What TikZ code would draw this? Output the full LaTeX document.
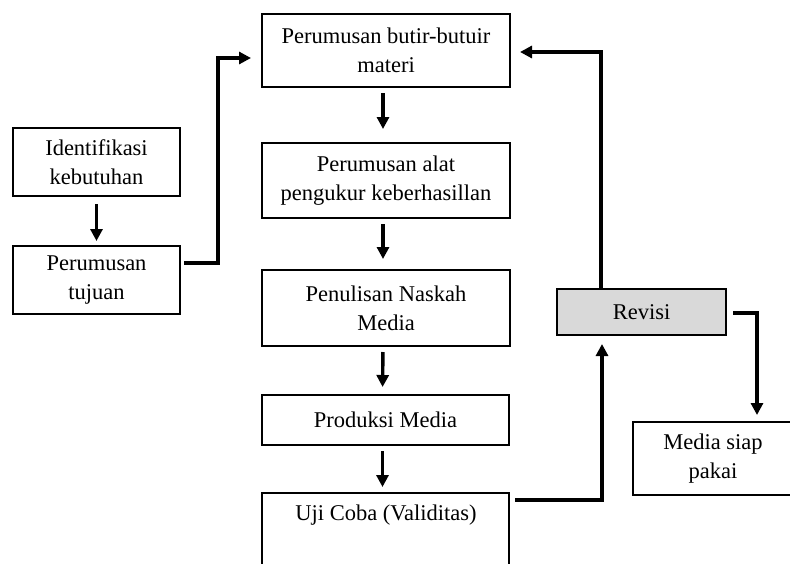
\documentclass[tikz,border=0pt]{standalone}
\usepackage{fontspec}
\setmainfont{Liberation Serif}
\usetikzlibrary{arrows.meta}
\begin{document}
\begin{tikzpicture}[x=1pt,y=-1pt,
  box/.style={draw=black, line width=2pt, fill=white, inner sep=0pt, align=center,
    font=\fontsize{22.5}{29}\selectfont},
  txt/.style={inner sep=0pt, align=center, font=\fontsize{22.5}{29}\selectfont},
  conn/.style={draw=black, line width=3.4pt, -{Triangle[width=12pt,length=12pt]}}]
\useasboundingbox (0,0) rectangle (790,563);
\clip (0,0) rectangle (790,563);
\fill[white] (0,0) rectangle (790,563);

% left column
\node[box, minimum width=167, minimum height=68] (i1) at (96.5,162) {Identifikasi\\kebutuhan};
\node[box, minimum width=167, minimum height=68] (i2) at (96.5,280) {Perumusan\\tujuan};

% centre column
\node[box, minimum width=248, minimum height=73] (b1) at (386,50.5) {Perumusan butir-butuir\\materi};
\node[box, minimum width=248, minimum height=75] (b2) at (386,180.5) {Perumusan alat\\pengukur keberhasillan};
\node[box, minimum width=248, minimum height=76] (b3) at (386,308) {Penulisan Naskah\\Media};
\node[box, minimum width=247, minimum height=50] (b4) at (385.5,420) {Produksi Media};
\node[box, minimum width=247, minimum height=100, anchor=north] (b5) at (385.5,492) {};
\node[txt] (b5t) at (386,515) {Uji Coba (Validitas)};

% right
\node[box, fill={rgb,255:red,217;green,217;blue,217}, minimum width=169, minimum height=46] (rv) at (641.5,312) {Revisi};
\node[box, minimum width=160, minimum height=73] (ms) at (713,458.5) {Media siap\\pakai};

% coordinates for elbows
\coordinate (c1) at (218,263);
\coordinate (c2) at (218,58);
\coordinate (c3) at (601,52);
\coordinate (c4) at (602,500);
\coordinate (c5) at (757,313);

% vertical arrows
\draw[conn, shorten <=7pt, shorten >=4pt] (i1.south) -- (i2.north);
\draw[conn, shorten <=5pt, shorten >=13pt] ([xshift=-3pt]b1.south) -- ([xshift=-3pt]b2.north);
\draw[conn, shorten <=5pt, shorten >=10pt] ([xshift=-3pt]b2.south) -- ([xshift=-3pt]b3.north);
\draw[conn, shorten <=5pt, shorten >=7pt] ([xshift=-3pt]b3.south) -- ([xshift=-3pt]b4.north);
\draw[conn, shorten <=5pt, shorten >=5pt] ([xshift=-3pt]b4.south) -- ([xshift=-3pt]b5.north);

% elbow connectors
\draw[conn, shorten >=10pt] ([xshift=3pt]i2.east |- c1) -- (c1) -- (c2) -- (b1.west |- c2);
\draw[conn, shorten >=8pt] ([xshift=5pt]b5.north east |- c4) -- (c4) -- (rv.south -| c4);
\draw[conn, shorten >=-9pt] (rv.north -| c3) -- (c3) -- ([xshift=18pt]b1.east |- c3);
\draw[conn, shorten >=6pt] ([xshift=6pt]rv.east |- c5) -- (c5) -- (ms.north -| c5);
\end{tikzpicture}
\end{document}
